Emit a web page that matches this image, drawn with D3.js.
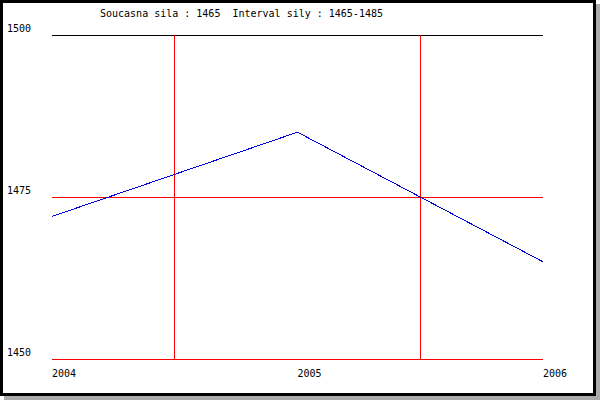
<!DOCTYPE html>
<html><head><meta charset="utf-8">
<script src="https://cdn.jsdelivr.net/npm/d3@7"></script>
<style>body{margin:0;background:#fff}svg{display:block}text{white-space:pre}</style>
</head><body>
<svg id="c" width="600" height="400"></svg>
<script>
const title = "Soucasna sila : 1465  Interval sily : 1465-1485";
const years = [2004, 2005, 2006];
const values = [1472, 1485, 1465];
const yTicks = [1450, 1475, 1500];
const gridColors = {1450: "#ff0000", 1475: "#ff0000", 1500: "#000000"};
const markers = [2004.5, 2005.5];

const svg = d3.select("#c");
svg.append("rect").attr("x",4).attr("y",4).attr("width",596).attr("height",396).attr("fill","#aaaaaa");
svg.append("rect").attr("x",1.5).attr("y",1.5).attr("width",593).attr("height",393)
  .attr("fill","#fff").attr("stroke","#000").attr("stroke-width",3);

const x = d3.scaleLinear().domain([2004, 2006]).range([52, 543]);
const y = d3.scaleLinear().domain([1450, 1500]).range([359, 35]);
const font = "'DejaVu Sans Mono', monospace";

svg.append("text").attr("x",100).attr("y",17).attr("font-family",font).attr("font-size",10)
  .attr("fill","#000").attr("xml:space","preserve").text(title);

const g = svg.append("g").attr("shape-rendering","crispEdges");
g.selectAll("line.h").data(yTicks).join("line").attr("class","h")
  .attr("x1", x(2004)).attr("x2", x(2006))
  .attr("y1", d => Math.round(y(d))+0.5).attr("y2", d => Math.round(y(d))+0.5)
  .attr("stroke", d => gridColors[d]).attr("stroke-width",1);
g.selectAll("line.v").data(markers).join("line").attr("class","v")
  .attr("x1", d => Math.floor(x(d))+0.5).attr("x2", d => Math.floor(x(d))+0.5)
  .attr("y1", y(1500)).attr("y2", y(1450))
  .attr("stroke","#ff0000").attr("stroke-width",1);

svg.selectAll("text.yl").data(yTicks).join("text").attr("class","yl")
  .attr("x",7).attr("y", d => y(d)-3)
  .attr("font-family",font).attr("font-size",10).attr("fill","#000").text(d => d);
svg.selectAll("text.xl").data(years).join("text").attr("class","xl")
  .attr("x", d => x(d)).attr("y",377)
  .attr("font-family",font).attr("font-size",10).attr("fill","#000").text(d => d);

const line = d3.line().x((d,i) => x(years[i])).y(d => y(d));
g.append("path").datum(values).attr("d", line).attr("fill","none")
  .attr("stroke","#0000dd").attr("stroke-width",1);
</script>
</body></html>
